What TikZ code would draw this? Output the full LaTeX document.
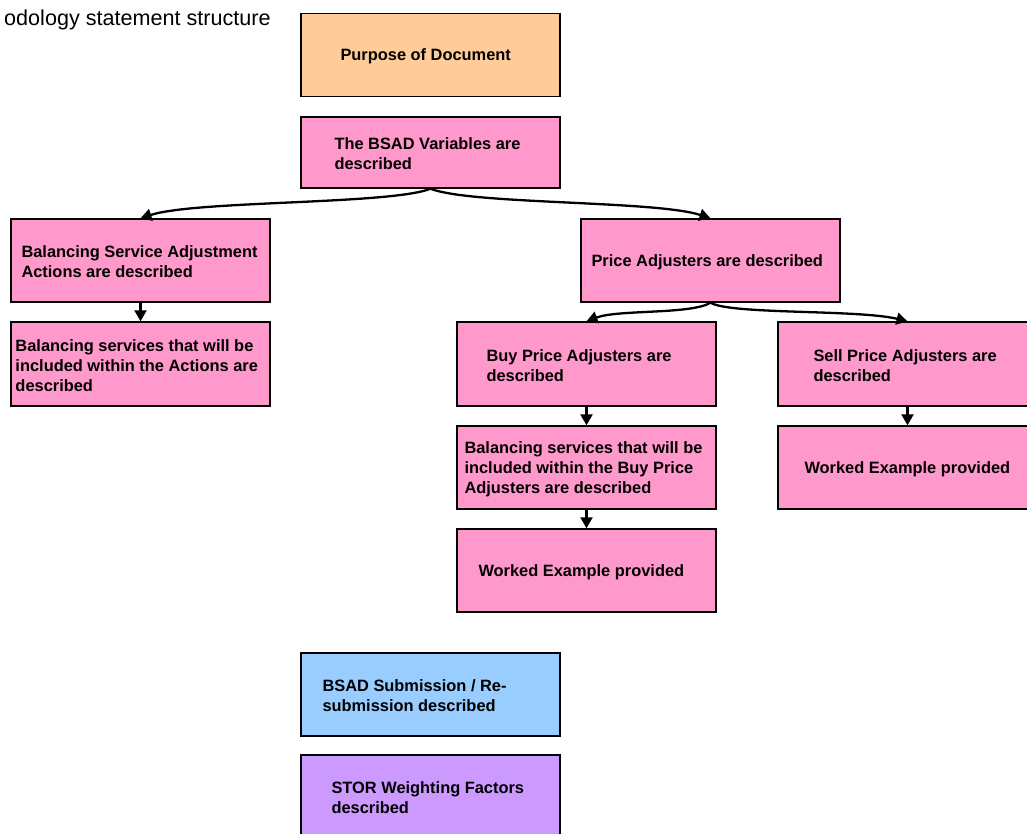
\documentclass[tikz,border=0pt]{standalone}
\usepackage{fontspec}
\setmainfont{Liberation Sans}
\usetikzlibrary{arrows.meta}
\definecolor{orangefill}{HTML}{FFCC99}
\definecolor{pinkfill}{HTML}{FF99CC}
\definecolor{bluefill}{HTML}{99CCFF}
\definecolor{purplefill}{HTML}{CC99FF}
\begin{document}
\begin{tikzpicture}[x=1pt,y=-1pt,
  box/.style={draw=black,line width=1.4pt,minimum width=259pt,minimum height=83pt,inner sep=0pt,anchor=center},
  txt/.style={anchor=west,align=left,inner sep=0pt,yshift=-1.5pt,font=\fontsize{16.4}{19.8}\selectfont\bfseries},
  conn/.style={line width=2.3pt,-{Triangle[length=11pt,width=12pt]}}]
\useasboundingbox (0,0) rectangle (1027,834);
\clip (0,0) rectangle (1027,834);
\node[anchor=base west,inner sep=0pt,font=\fontsize{21.6}{24}\selectfont] (title) at (4,26) {odology statement structure};
% boxes
\node[box,fill=orangefill] (b1) at (430.5,55) {};
\node[box,fill=pinkfill,minimum height=71pt] (b2) at (430.5,152.5) {};
\node[box,fill=pinkfill] (b3) at (140.5,260.5) {};
\node[box,fill=pinkfill] (b4) at (710.5,260.5) {};
\node[box,fill=pinkfill,minimum height=84pt] (b5) at (140.5,364) {};
\node[box,fill=pinkfill,minimum height=84pt] (b6) at (586.5,364) {};
\node[box,fill=pinkfill,minimum height=84pt] (b7) at (907.5,364) {};
\node[box,fill=pinkfill] (b8) at (586.5,467.5) {};
\node[box,fill=pinkfill] (b9) at (907.5,467.5) {};
\node[box,fill=pinkfill] (b10) at (586.5,570.5) {};
\node[box,fill=bluefill] (b11) at (430.5,694.5) {};
\node[box,fill=purplefill] (b12) at (430.5,796.5) {};
% texts
\node[txt] (t1) at ([xshift=40pt]b1.west) {Purpose of Document};
\node[txt] (t2) at ([xshift=34pt]b2.west) {The BSAD Variables are\\described};
\node[txt] (t3) at ([xshift=11pt]b3.west) {Balancing Service Adjustment\\Actions are described};
\node[txt] (t4) at ([xshift=11pt]b4.west) {Price Adjusters are described};
\node[txt] (t5) at ([xshift=5pt]b5.west) {Balancing services that will be\\included within the Actions are\\described};
\node[txt] (t6) at ([xshift=30pt]b6.west) {Buy Price Adjusters are\\described};
\node[txt] (t7) at ([xshift=36pt]b7.west) {Sell Price Adjusters are\\described};
\node[txt] (t8) at ([xshift=8pt]b8.west) {Balancing services that will be\\included within the Buy Price\\Adjusters are described};
\node[txt] (t9) at ([xshift=27pt]b9.west) {Worked Example provided};
\node[txt] (t10) at ([xshift=22pt]b10.west) {Worked Example provided};
\node[txt] (t11) at ([xshift=22pt]b11.west) {BSAD Submission / Re-\\submission described};
\node[txt] (t12) at ([xshift=31pt]b12.west) {STOR Weighting Factors\\described};
% connectors
\draw[conn] (b2.south) .. controls +(-40,16) and +(55,-18) .. (b3.north);
\draw[conn] (b2.south) .. controls +(40,16) and +(-55,-18) .. (b4.north);
\draw[conn] (b4.south) .. controls +(-20,12) and +(32,-12) .. (b6.north);
\draw[conn] (b4.south) .. controls +(20,12) and +(-50,-12) .. (b7.north);
\draw[conn] (b3.south) -- (b5.north);
\draw[conn] (b6.south) -- (b8.north);
\draw[conn] (b7.south) -- (b9.north);
\draw[conn] (b8.south) -- (b10.north);
\end{tikzpicture}
\end{document}
